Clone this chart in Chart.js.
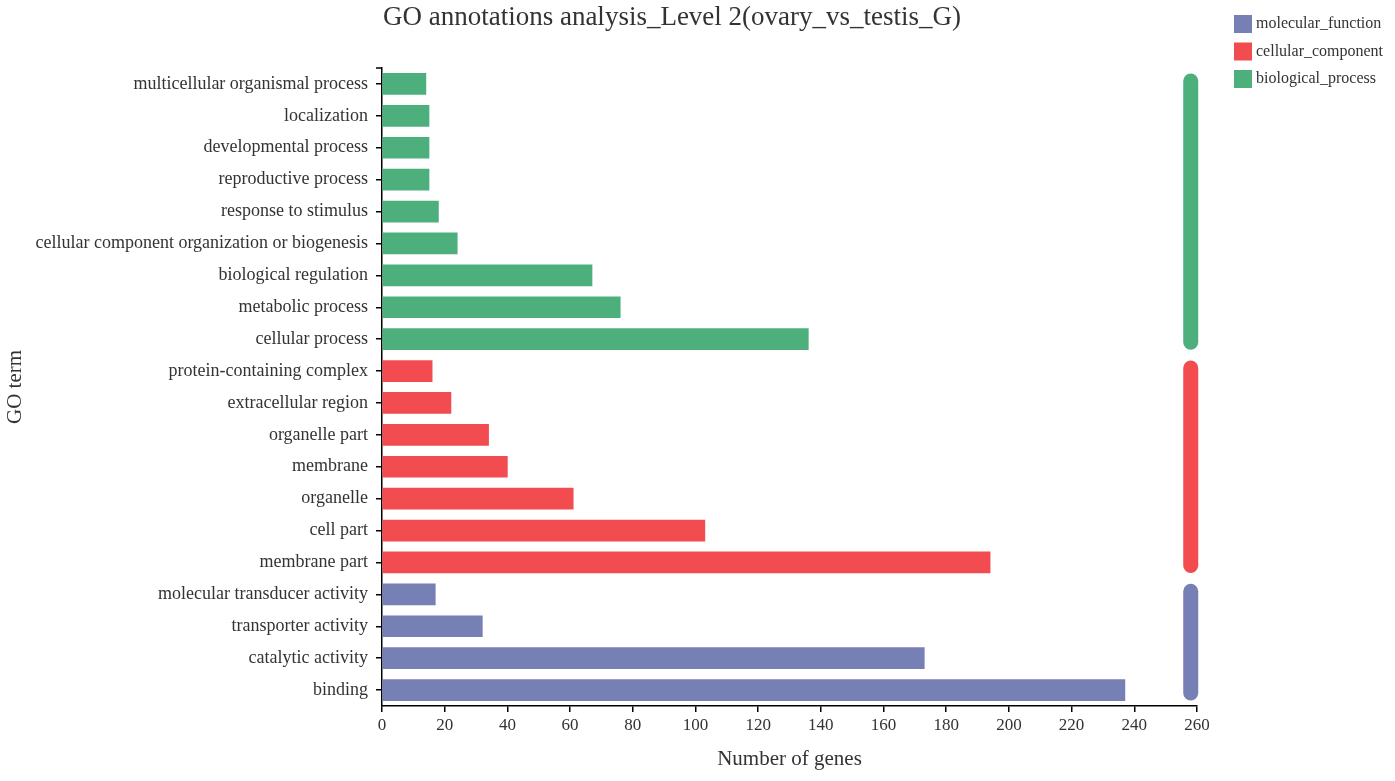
<!DOCTYPE html>
<html>
<head>
<meta charset="utf-8">
<title>GO annotations analysis_Level 2</title>
<script src="https://cdn.jsdelivr.net/npm/chart.js@4/dist/chart.umd.min.js"></script>
<style>
  html, body { margin: 0; padding: 0; background: #fff; }
  #wrap { width: 1395px; height: 781px; }
</style>
</head>
<body>
<div id="wrap"><canvas id="goChart" width="1395" height="781"></canvas></div>
<script>
// GO terms, top to bottom as drawn
const terms = [
    "multicellular organismal process", "localization", "developmental process",
    "reproductive process", "response to stimulus",
    "cellular component organization or biogenesis", "biological regulation",
    "metabolic process", "cellular process",
    "protein-containing complex", "extracellular region", "organelle part",
    "membrane", "organelle", "cell part", "membrane part",
    "molecular transducer activity", "transporter activity",
    "catalytic activity", "binding"
];
const geneCounts = [14, 15, 15, 15, 18, 24, 67, 76, 136, 16, 22, 34, 40, 61, 103, 194, 17, 32, 173, 237];
const termGroup = [
    "biological_process", "biological_process", "biological_process",
    "biological_process", "biological_process", "biological_process",
    "biological_process", "biological_process", "biological_process",
    "cellular_component", "cellular_component", "cellular_component",
    "cellular_component", "cellular_component", "cellular_component",
    "cellular_component",
    "molecular_function", "molecular_function", "molecular_function",
    "molecular_function"
];
const legendGroups = ["molecular_function", "cellular_component", "biological_process"];
const xTicks = [0, 20, 40, 60, 80, 100, 120, 140, 160, 180, 200, 220, 240, 260];
const groupBarValue = 258;

const groupColors = {
    molecular_function: "#7680b4",
    cellular_component: "#f34c50",
    biological_process: "#4caf7c"
};
const FONT = "'Liberation Serif', 'Times New Roman', serif";
const TEXT = "#333333";
const BAR_THICK = 21;

// title, legend and the category strips at the right
const decorPlugin = {
    id: "goDecor",
    afterDraw(chart) {
        const ctx = chart.ctx;
        const x = chart.scales.x, y = chart.scales.y;
        ctx.save();

        // y axis outer tick at the top
        ctx.strokeStyle = "#000";
        ctx.lineWidth = 1.5;
        ctx.beginPath();
        ctx.moveTo(chart.chartArea.left - 6, chart.chartArea.top);
        ctx.lineTo(chart.chartArea.left, chart.chartArea.top);
        ctx.stroke();

        // group strips
        const cx = x.getPixelForValue(groupBarValue);
        legendGroups.forEach(g => {
            const idx = termGroup.map((t, i) => t === g ? i : -1).filter(i => i >= 0);
            if (!idx.length) return;
            const top = y.getPixelForValue(Math.min(...idx)) - BAR_THICK / 2;
            const bot = y.getPixelForValue(Math.max(...idx)) + BAR_THICK / 2;
            ctx.fillStyle = groupColors[g];
            ctx.beginPath();
            ctx.roundRect(cx - 7.5, top, 15, bot - top, 7.5);
            ctx.fill();
        });

        // title
        ctx.fillStyle = TEXT;
        ctx.font = "27px " + FONT;
        ctx.textAlign = "center";
        ctx.textBaseline = "alphabetic";
        ctx.fillText("GO annotations analysis_Level 2(ovary_vs_testis_G)", 672, 25);

        // legend
        ctx.font = "16px " + FONT;
        ctx.textAlign = "left";
        ctx.textBaseline = "middle";
        legendGroups.forEach((g, i) => {
            const ly = 15 + i * 27.5;
            ctx.fillStyle = groupColors[g];
            ctx.fillRect(1234, ly, 18, 18);
            ctx.fillStyle = TEXT;
            ctx.fillText(g, 1256, ly + 9);
        });
        ctx.restore();
    }
};

const chart = new Chart(document.getElementById("goChart"), {
    type: "bar",
    data: {
        labels: terms,
        datasets: [{
            label: "Number of genes",
            data: geneCounts,
            backgroundColor: termGroup.map(g => groupColors[g]),
            categoryPercentage: 1,
            barThickness: BAR_THICK
        }]
    },
    options: {
        indexAxis: "y",
        responsive: false,
        animation: false,
        layout: { padding: { left: 0, right: 198, top: 68, bottom: 0 } },
        plugins: {
            legend: { display: false },
            title: { display: false },
            tooltip: { enabled: false }
        },
        scales: {
            x: {
                type: "linear",
                min: 0,
                max: 260,
                afterFit: s => { s.height = 75; },
                afterBuildTicks: s => { s.ticks = xTicks.map(v => ({ value: v })); },
                grid: { drawOnChartArea: false, drawTicks: true, tickLength: 6, color: "#000", lineWidth: 1.5 },
                border: { display: true, color: "#000", width: 1.5 },
                ticks: { color: TEXT, font: { family: FONT, size: 17 }, padding: 3, maxRotation: 0 },
                title: {
                    display: true,
                    text: "Number of genes",
                    color: TEXT,
                    font: { family: FONT, size: 21 },
                    padding: { top: 0, bottom: 9 }
                }
            },
            y: {
                afterFit: s => { s.width = 382; },
                grid: { drawOnChartArea: false, drawTicks: true, tickLength: 6, offset: false, color: "#000", lineWidth: 1.5 },
                border: { display: true, color: "#000", width: 1.5 },
                ticks: { color: TEXT, font: { family: FONT, size: 18 }, padding: 8, autoSkip: false },
                title: {
                    display: true,
                    text: "GO term",
                    color: TEXT,
                    font: { family: FONT, size: 21 },
                    padding: { top: 3, bottom: 0 }
                }
            }
        }
    },
    plugins: [decorPlugin]
});
</script>
</body>
</html>
